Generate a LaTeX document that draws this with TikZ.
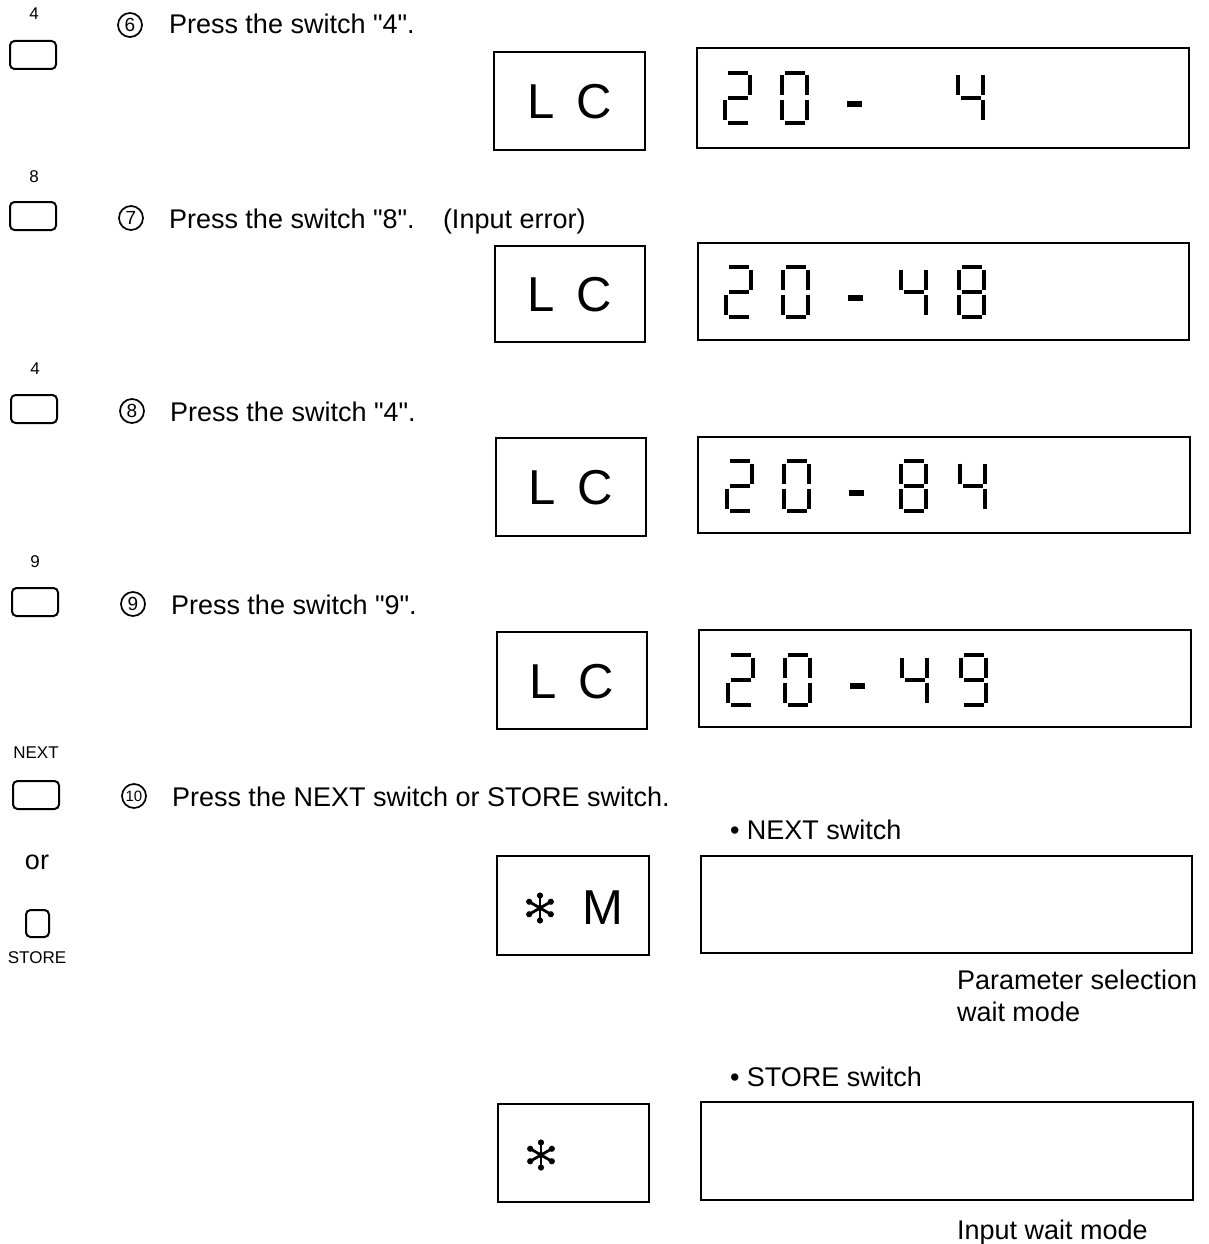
\documentclass[tikz,border=0pt]{standalone}
\usepackage{fontspec}
\setmainfont{Liberation Sans}[Ligatures=TeXOff]
\newcommand{\SgA}{\draw[seg] (2.5,0)--(22.5,0);}
\newcommand{\SgB}{\draw[seg] (25,2.5)--(25,22.5);}
\newcommand{\SgC}{\draw[seg] (25,27.5)--(25,47.5);}
\newcommand{\SgD}{\draw[seg] (2.5,50)--(22.5,50);}
\newcommand{\SgE}{\draw[seg] (0,27.5)--(0,47.5);}
\newcommand{\SgF}{\draw[seg] (0,2.5)--(0,22.5);}
\newcommand{\SgG}{\draw[seg] (2.5,25)--(22.5,25);}
\newcommand{\DigTwo}[2]{\begin{scope}[shift={(#1,#2)}]\SgA\SgB\SgG\SgE\SgD\end{scope}}
\newcommand{\DigZero}[2]{\begin{scope}[shift={(#1,#2)}]\SgA\SgB\SgC\SgD\SgE\SgF\end{scope}}
\newcommand{\DigFour}[2]{\begin{scope}[shift={(#1,#2)}]\SgF\SgG\SgB\SgC\end{scope}}
\newcommand{\DigEight}[2]{\begin{scope}[shift={(#1,#2)}]\SgA\SgB\SgC\SgD\SgE\SgF\SgG\end{scope}}
\newcommand{\DigNine}[2]{\begin{scope}[shift={(#1,#2)}]\SgA\SgB\SgC\SgD\SgF\SgG\end{scope}}
\newcommand{\DashSeg}[2]{\draw[line width=5.5pt] (#1,#2)--++(15,0);}
\newcommand{\Asterisk}[1]{\begin{scope}[shift={#1}]
  \foreach \a in {90,30,-30,-90,-150,150}{\draw[line width=2.8pt] (0,0)--(\a:-12.5);
    \fill (\a:-12.5) circle (3.1pt);}\fill (0,0) circle (3pt);\end{scope}}
\begin{document}
\begin{tikzpicture}[x=1pt,y=-1pt,
  every node/.style={inner sep=0pt, outer sep=0pt},
  box/.style={draw, line width=2pt},
  btn/.style={draw, line width=2pt, rounded corners=4.5pt},
  seg/.style={line width=4.8pt},
  main/.style={font=\fontsize{27}{32}\selectfont, anchor=base west},
  small/.style={font=\fontsize{17}{20}\selectfont, anchor=center},
  big/.style={font=\fontsize{49}{56}\selectfont, anchor=center},
  circnum/.style={draw, circle, line width=1.7pt, minimum size=24pt, font=\fontsize{19}{22}\selectfont},
]
\useasboundingbox (0,0) rectangle (1209,1244);

% left switch labels and buttons
\node[small] (l6) at (34,14) {4};
\draw[btn] (10,41) rectangle (56,69);
\node[small] (l7) at (34,177) {8};
\draw[btn] (10,202) rectangle (56,230);
\node[small] (l8) at (35,369) {4};
\draw[btn] (11,395) rectangle (57,423);
\node[small] (l9) at (35,562) {9};
\draw[btn] (12,588) rectangle (58,616);
\node[small] (l10) at (36,753) {NEXT};
\draw[btn] (13,781) rectangle (59,809);
\node[font=\fontsize{27}{32}\selectfont, anchor=base] (lor) at (37,869) {or};
\draw[btn] (26,910) rectangle (49,937);
\node[small] (lst) at (37,958) {STORE};

% step texts
\node[circnum] (c6) at (130,25) {6};
\node[main] (t6) at (169,34) {Press the switch "4".};
\node[circnum] (c7) at (131,218) {7};
\node[main] (t7) at (169,228) {Press the switch "8".};
\node[main] (t7b) at (443,228) {(Input error)};
\node[circnum] (c8) at (132,411) {8};
\node[main] (t8) at (170,421) {Press the switch "4".};
\node[circnum] (c9) at (133,604) {9};
\node[main] (t9) at (171,614) {Press the switch "9".};
\node[circnum, font=\fontsize{15}{17}\selectfont] (c10) at (134,796) {10};
\node[main] (t10) at (172,806) {Press the NEXT switch or STORE switch.};

% row 1
\draw[box] (494,52) rectangle (645,150);
\node[big] (lc1) at (570,102) {L\hspace{22pt}C};
\draw[box] (697,48) rectangle (1189,148);
\DigTwo{725}{73}\DigZero{782}{73}\DashSeg{847}{104}\DigFour{958}{73}

% row 2
\draw[box] (495,246) rectangle (645,342);
\node[big] (lc2) at (570,295) {L\hspace{22pt}C};
\draw[box] (698,243) rectangle (1189,340);
\DigTwo{726}{267}\DigZero{783}{267}\DashSeg{848}{298}\DigFour{901}{267}\DigEight{959}{267}

% row 3
\draw[box] (496,438) rectangle (646,536);
\node[big] (lc3) at (571,488) {L\hspace{22pt}C};
\draw[box] (698,437) rectangle (1190,533);
\DigTwo{727}{461}\DigZero{784}{461}\DashSeg{849}{493}\DigEight{901}{461}\DigFour{960}{461}

% row 4
\draw[box] (497,632) rectangle (647,729);
\node[big] (lc4) at (572,682) {L\hspace{22pt}C};
\draw[box] (699,630) rectangle (1191,727);
\DigTwo{728}{655}\DigZero{785}{655}\DashSeg{850}{686}\DigFour{902}{655}\DigNine{961}{655}

% NEXT result
\node[main] (nx) at (730,839) {• NEXT switch};
\draw[box] (497,856) rectangle (649,955);
\Asterisk{(540,908)}
\node[big] (mm) at (603,908) {M};
\draw[box] (701,856) rectangle (1192,953);
\node[main] (p1) at (957,989) {Parameter selection};
\node[main] (p2) at (957,1021) {wait mode};

% STORE result
\node[main] (sx) at (730,1086) {• STORE switch};
\draw[box] (498,1104) rectangle (649,1202);
\Asterisk{(541,1155)}
\draw[box] (701,1102) rectangle (1193,1200);
\node[main] (iw) at (957,1239) {Input wait mode};
\end{tikzpicture}
\end{document}
